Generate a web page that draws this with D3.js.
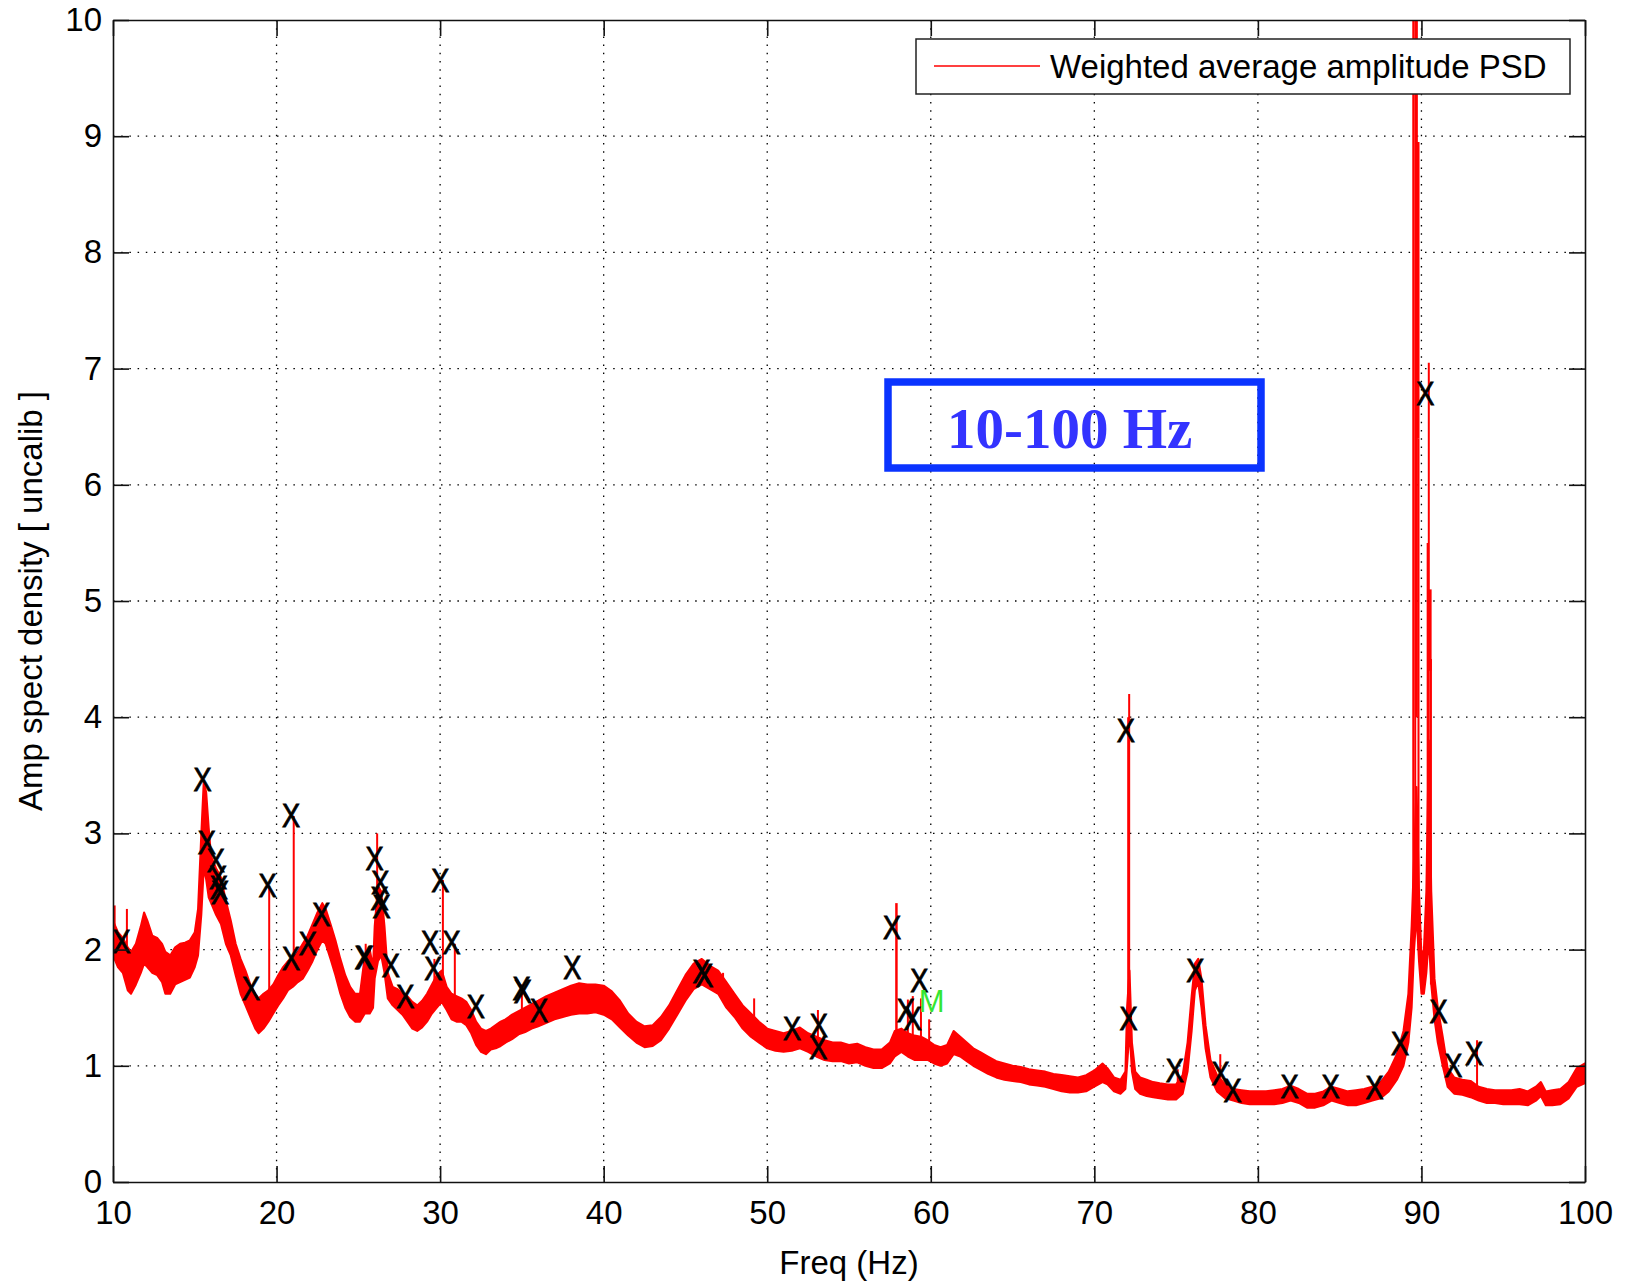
<!DOCTYPE html>
<meta charset="utf-8">
<style>
body { margin: 0; background: #fff; }
text { font-family: "Liberation Sans", Arial, sans-serif; }
.grid line { stroke: #000; stroke-width: 1.3; stroke-dasharray: 1.5,6.7; }
.axis path, .axis line { stroke: #111; stroke-width: 1.6; }
.axis text { font-size: 33px; fill: #000; }
</style>
<svg width="1627" height="1282"></svg>
<script src="https://d3js.org/d3.v7.min.js"></script>
<script>

// noisy PSD band: [freq, lower edge, upper edge]
var psdBand = [
  [10.0,1.95,2.25],[10.3,1.85,2.15],[10.6,1.80,2.10],[10.9,1.65,2.02],[11.1,1.62,1.98],
  [11.4,1.70,2.05],[11.7,1.80,2.20],[11.9,1.88,2.32],[12.1,1.85,2.25],[12.4,1.80,2.12],
  [12.7,1.78,2.10],[13.0,1.72,2.05],[13.2,1.62,1.98],[13.5,1.62,1.95],[13.8,1.70,2.02],
  [14.1,1.72,2.05],[14.4,1.74,2.06],[14.7,1.76,2.08],[15.0,1.85,2.15],[15.2,1.95,2.35],
  [15.4,2.30,3.00],[15.55,2.70,3.45],[15.7,2.60,3.35],[15.85,2.45,3.05],[16.0,2.40,2.80],
  [16.3,2.30,2.70],[16.6,2.22,2.62],[16.9,2.05,2.42],[17.2,1.95,2.25],[17.5,1.78,2.05],
  [17.8,1.62,1.92],[18.1,1.52,1.82],[18.4,1.42,1.70],[18.7,1.32,1.62],[18.9,1.28,1.58],
  [19.2,1.32,1.62],[19.5,1.38,1.65],[19.8,1.45,1.70],[20.1,1.52,1.78],[20.4,1.58,1.85],
  [20.7,1.65,1.90],[21.0,1.68,1.92],[21.3,1.72,1.98],[21.6,1.75,2.05],[21.9,1.82,2.12],
  [22.2,1.90,2.22],[22.5,2.00,2.32],[22.8,2.08,2.40],[23.0,2.05,2.35],[23.3,1.92,2.22],
  [23.6,1.78,2.08],[23.9,1.62,1.92],[24.2,1.50,1.78],[24.5,1.42,1.68],[24.8,1.38,1.62],
  [25.1,1.38,1.62],[25.4,1.45,1.95],[25.7,1.45,2.00],[25.9,1.50,1.85],[26.0,1.75,2.20],
  [26.2,1.90,2.55],[26.4,1.95,2.50],[26.6,1.80,2.20],[26.8,1.58,1.80],[27.1,1.52,1.68],
  [27.4,1.48,1.66],[27.7,1.44,1.62],[28.0,1.38,1.60],[28.3,1.32,1.55],[28.6,1.30,1.52],
  [28.9,1.33,1.56],[29.2,1.38,1.62],[29.5,1.45,1.70],[29.8,1.50,1.78],[30.1,1.55,1.82],
  [30.4,1.48,1.68],[30.7,1.40,1.62],[31.0,1.38,1.60],[31.3,1.38,1.58],[31.6,1.35,1.55],
  [31.9,1.28,1.48],[32.2,1.18,1.38],[32.5,1.12,1.32],[32.8,1.10,1.30],[33.1,1.14,1.32],
  [33.4,1.15,1.35],[33.7,1.17,1.38],[34.0,1.20,1.40],[34.4,1.23,1.44],[34.8,1.27,1.47],
  [35.2,1.29,1.50],[35.6,1.32,1.53],[36.0,1.34,1.56],[36.5,1.37,1.60],[37.0,1.40,1.63],
  [37.5,1.42,1.66],[38.0,1.44,1.69],[38.5,1.45,1.71],[39.0,1.45,1.70],[39.5,1.46,1.70],
  [40.0,1.44,1.69],[40.5,1.40,1.64],[41.0,1.33,1.56],[41.5,1.26,1.45],[42.0,1.20,1.38],
  [42.5,1.16,1.34],[43.0,1.17,1.35],[43.5,1.22,1.42],[44.0,1.32,1.52],[44.5,1.44,1.65],
  [45.0,1.56,1.78],[45.5,1.66,1.88],[46.0,1.70,1.92],[46.5,1.66,1.86],[47.0,1.62,1.82],
  [47.5,1.50,1.72],[48.0,1.42,1.62],[48.5,1.32,1.52],[49.0,1.25,1.45],[49.5,1.20,1.38],
  [50.0,1.15,1.32],[50.5,1.13,1.30],[51.0,1.12,1.28],[51.5,1.13,1.30],[52.0,1.15,1.33],
  [52.5,1.12,1.28],[53.0,1.08,1.25],[53.5,1.05,1.22],[54.0,1.04,1.20],[54.5,1.04,1.20],
  [55.0,1.02,1.18],[55.5,1.03,1.19],[56.0,1.00,1.16],[56.5,0.98,1.14],[57.0,0.98,1.14],
  [57.5,1.02,1.20],[57.8,1.08,1.30],[58.2,1.12,1.32],[58.6,1.08,1.28],[59.0,1.05,1.26],
  [59.4,1.05,1.25],[59.8,1.05,1.22],[60.2,1.02,1.18],[60.6,1.00,1.16],[61.0,1.02,1.18],
  [61.4,1.10,1.30],[61.8,1.08,1.25],[62.2,1.04,1.20],[62.6,1.00,1.15],[63.0,0.97,1.12],
  [63.5,0.93,1.08],[64.0,0.90,1.04],[64.5,0.88,1.02],[65.0,0.87,1.00],[65.5,0.86,0.99],
  [66.0,0.84,0.97],[66.5,0.83,0.96],[67.0,0.82,0.95],[67.5,0.80,0.93],[68.0,0.78,0.92],
  [68.5,0.77,0.91],[69.0,0.77,0.90],[69.5,0.78,0.92],[70.0,0.82,0.96],[70.5,0.86,1.02],
  [70.8,0.84,0.98],[71.2,0.78,0.90],[71.6,0.76,0.88],[71.9,0.80,0.95],[72.0,1.00,1.50],
  [72.15,1.30,1.82],[72.3,0.95,1.20],[72.5,0.80,0.95],[72.8,0.76,0.90],[73.2,0.74,0.88],
  [73.6,0.73,0.86],[74.0,0.72,0.85],[74.5,0.71,0.84],[75.0,0.71,0.84],[75.4,0.76,0.92],
  [75.7,0.95,1.20],[75.95,1.30,1.60],[76.15,1.65,1.88],[76.35,1.72,1.92],[76.55,1.50,1.75],
  [76.8,1.15,1.35],[77.1,0.90,1.05],[77.5,0.78,0.92],[78.0,0.72,0.84],[78.5,0.70,0.80],
  [79.0,0.68,0.79],[79.5,0.67,0.78],[80.0,0.67,0.78],[80.5,0.67,0.78],[81.0,0.67,0.79],
  [81.5,0.68,0.80],[82.0,0.70,0.83],[82.5,0.68,0.80],[83.0,0.64,0.76],[83.5,0.64,0.76],
  [84.0,0.66,0.78],[84.5,0.70,0.82],[85.0,0.68,0.80],[85.5,0.66,0.78],[86.0,0.66,0.79],
  [86.5,0.68,0.80],[87.0,0.70,0.82],[87.5,0.72,0.86],[88.0,0.78,0.95],[88.5,0.88,1.10],
  [88.9,1.00,1.30],[89.2,1.20,1.62],[89.4,1.50,2.20],[89.55,2.00,2.80],[89.7,2.30,3.40],
  [89.85,1.90,2.50],[90.0,1.62,1.95],[90.15,1.62,2.00],[90.3,1.80,2.50],[90.45,2.10,3.80],
  [90.6,1.70,2.50],[90.8,1.40,1.75],[91.0,1.20,1.50],[91.3,1.00,1.25],[91.6,0.82,0.98],
  [92.0,0.76,0.90],[92.5,0.75,0.88],[93.0,0.73,0.87],[93.5,0.70,0.82],[94.0,0.68,0.80],
  [94.5,0.68,0.79],[95.0,0.67,0.79],[95.5,0.67,0.79],[96.0,0.67,0.80],[96.5,0.66,0.78],
  [97.0,0.70,0.82],[97.3,0.74,0.86],[97.6,0.66,0.78],[98.0,0.66,0.79],[98.5,0.67,0.80],
  [99.0,0.72,0.86],[99.5,0.82,0.98],[100.0,0.85,1.02]
];

// narrow lines sticking out of the band: [freq, from, to, width]
var psdSpikes = [
  [10.1,2.0,2.38,2],[10.85,1.9,2.35,2],[19.55,1.6,2.55,2],[21.05,1.8,3.15,2],
  [25.45,1.6,2.05,2],[25.6,1.6,2.0,2],[26.15,2.0,3.0,2],[29.65,1.6,1.92,2],
  [30.17,1.7,2.6,2],[30.9,1.5,2.05,2],[35.0,1.45,1.70,2],[47.3,1.7,1.80,2],
  [49.2,1.35,1.58,2],[53.1,1.2,1.48,2],[57.9,1.2,2.40,2.5],[58.6,1.2,1.57,2],
  [58.9,1.2,1.6,2],[59.4,1.2,1.58,2],[59.9,1.15,1.40,2],[72.07,1.3,4.0,2],[72.13,1.3,4.2,2],
  [75.1,0.8,0.97,2],[77.7,0.85,1.1,2],[89.5,2.0,10.5,2],[89.62,3.0,10.5,2],
  [89.72,4.0,10.5,2],[89.76,6.4,8.95,4],[89.82,2.0,6.4,2],[90.38,2.0,5.5,2],
  [90.45,3.0,7.05,2],[90.5,4.4,5.1,4],[90.58,1.7,4.5,2],[93.4,0.8,1.22,2]
];

// peak markers
var markerFreq = [10.52,15.47,15.73,16.28,16.42,16.47,16.55,18.44,19.45,20.88,20.88,21.91,22.74,
  25.32,25.40,25.99,26.34,26.30,26.42,26.98,27.88,29.38,29.58,30.02,30.70,32.18,34.98,35.05,
  36.05,38.08,45.98,46.15,51.52,53.15,53.12,57.64,58.47,58.88,59.30,71.92,72.10,74.92,76.18,
  77.72,78.45,81.93,84.45,87.13,88.70,90.23,91.05,91.95,93.22];
var markerAmp = [2.08,3.47,2.93,2.77,2.63,2.54,2.50,1.67,2.56,3.16,1.93,2.06,2.31,
  1.94,1.94,2.79,2.58,2.45,2.38,1.87,1.60,2.07,1.84,2.60,2.07,1.52,1.67,1.65,
  1.48,1.85,1.82,1.78,1.33,1.35,1.16,2.20,1.48,1.41,1.74,3.89,1.41,0.97,1.83,
  0.94,0.79,0.83,0.83,0.82,1.20,6.79,1.47,1.01,1.11];

var xTicks = [10, 20, 30, 40, 50, 60, 70, 80, 90, 100];
var yTicks = [0, 1, 2, 3, 4, 5, 6, 7, 8, 9, 10];

var svg = d3.select("svg"),
    plotL = 113, plotR = 1585, plotT = 20, plotB = 1182;

var x = d3.scaleLinear().domain([10, 100]).range([plotL, plotR]);
var y = d3.scaleLinear().domain([0, 10]).range([plotB, plotT]);

svg.append("defs").append("clipPath").attr("id", "plotclip")
  .append("rect")
    .attr("x", plotL).attr("y", plotT)
    .attr("width", plotR - plotL).attr("height", plotB - plotT);

// dotted grid
var grid = svg.append("g").attr("class", "grid");
grid.selectAll(".gx").data(xTicks.slice(1, -1)).enter().append("line")
    .attr("x1", d => x(d)).attr("x2", d => x(d))
    .attr("y1", plotT).attr("y2", plotB);
grid.selectAll(".gy").data(yTicks.slice(1, -1)).enter().append("line")
    .attr("x1", plotL).attr("x2", plotR)
    .attr("y1", d => y(d)).attr("y2", d => y(d));

var plot = svg.append("g").attr("clip-path", "url(#plotclip)");

var band = d3.area()
    .x(d => x(d[0]))
    .y0(d => y(d[1]))
    .y1(d => y(d[2]));

plot.append("path")
    .datum(psdBand)
    .attr("d", band)
    .attr("fill", "#ff0000")
    .attr("stroke", "#ff0000")
    .attr("stroke-width", 2)
    .attr("stroke-linejoin", "round");

plot.selectAll(".spike").data(psdSpikes).enter().append("line")
    .attr("x1", d => x(d[0])).attr("x2", d => x(d[0]))
    .attr("y1", d => y(d[1])).attr("y2", d => y(d[2]))
    .attr("stroke", "#ff0000")
    .attr("stroke-width", d => d[3]);

// X markers
plot.selectAll(".mark").data(markerFreq).enter().append("text")
    .attr("transform", (d, i) => "translate(" + x(d) + "," + y(markerAmp[i]) + ") scale(0.8,1)")
    .attr("text-anchor", "middle")
    .attr("dy", "0.36em")
    .style("font-size", "34px")
    .attr("fill", "#000")
    .attr("stroke", "#000")
    .attr("stroke-width", 0.9)
    .text("X");

plot.append("text")
    .attr("x", x(59.27)).attr("y", y(1.46))
    .style("font-size", "31px")
    .attr("fill", "#33e633")
    .text("M");

// axes, ticks pointing inward on all four sides
svg.append("g").attr("class", "axis")
    .attr("transform", "translate(0," + plotB + ")")
    .call(d3.axisBottom(x).tickValues(xTicks).tickSizeInner(-16).tickSizeOuter(0).tickPadding(19));
svg.append("g").attr("class", "axis")
    .attr("transform", "translate(" + plotL + ",0)")
    .call(d3.axisLeft(y).tickValues(yTicks).tickSizeInner(-16).tickSizeOuter(0).tickPadding(11));
svg.append("g").attr("class", "axis")
    .attr("transform", "translate(0," + plotT + ")")
    .call(d3.axisTop(x).tickValues(xTicks).tickSizeInner(-16).tickSizeOuter(0).tickFormat(""));
svg.append("g").attr("class", "axis")
    .attr("transform", "translate(" + plotR + ",0)")
    .call(d3.axisRight(y).tickValues(yTicks).tickSizeInner(-16).tickSizeOuter(0).tickFormat(""));

svg.append("text")
    .attr("x", (plotL + plotR) / 2).attr("y", 1274)
    .attr("text-anchor", "middle")
    .style("font-size", "33px")
    .text("Freq (Hz)");

svg.append("text")
    .attr("transform", "translate(42," + (plotT + plotB) / 2 + ") rotate(-90)")
    .attr("text-anchor", "middle")
    .style("font-size", "33px")
    .text("Amp spect density [ uncalib ]");

// legend
var legend = svg.append("g");
legend.append("rect")
    .attr("x", 916).attr("y", 39).attr("width", 654).attr("height", 55)
    .attr("fill", "#fff").attr("stroke", "#222").attr("stroke-width", 1.5);
legend.append("line")
    .attr("x1", 934).attr("x2", 1040).attr("y1", 66).attr("y2", 66)
    .attr("stroke", "#ff0000").attr("stroke-width", 1.5);
legend.append("text")
    .attr("x", 1050).attr("y", 66).attr("dy", "0.36em")
    .style("font-size", "33px")
    .text("Weighted average amplitude PSD");

// blue band annotation
svg.append("rect")
    .attr("x", 888).attr("y", 382).attr("width", 373).attr("height", 86)
    .attr("fill", "none").attr("stroke", "#0a33ff").attr("stroke-width", 7.5);
svg.append("text")
    .attr("x", 947).attr("y", 448)
    .style("font-family", "'Liberation Serif', 'Times New Roman', serif")
    .style("font-weight", "bold")
    .style("font-size", "57px")
    .attr("fill", "#3333ff")
    .text("10-100 Hz");

</script>
